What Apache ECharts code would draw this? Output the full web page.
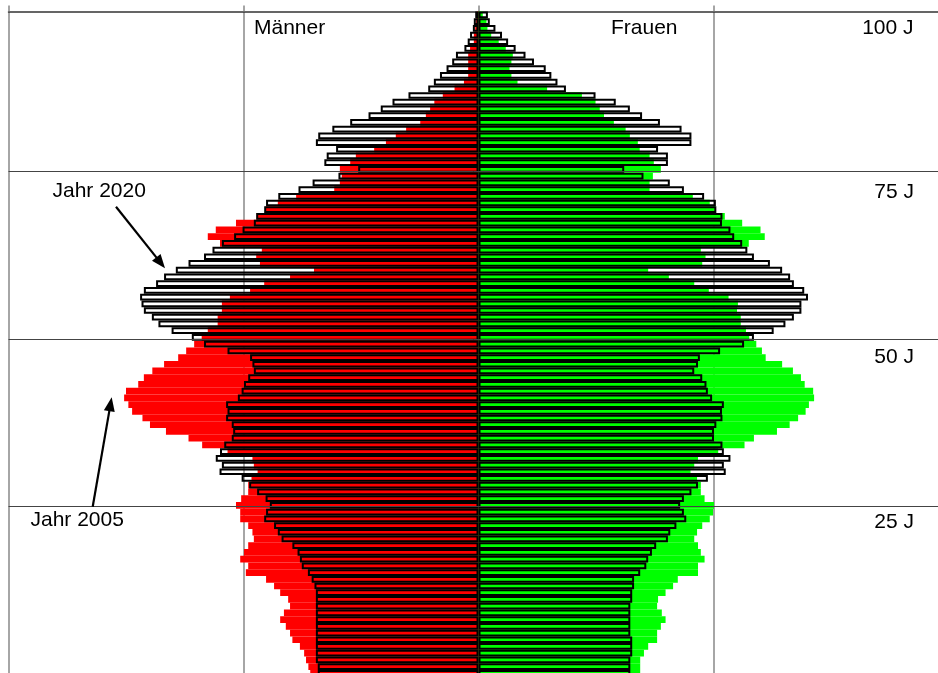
<!DOCTYPE html>
<html><head><meta charset="utf-8">
<script src="https://cdn.jsdelivr.net/npm/echarts@6/dist/echarts.min.js"></script>
<style>html,body{margin:0;padding:0;background:#fff}#c{width:938px;height:673px}</style>
</head><body><div id="c"></div><script>
// Ages 0..98 (bottom to top)
const ages = ['0','1','2','3','4','5','6','7','8','9','10','11','12','13','14','15','16','17','18','19',
 '20','21','22','23','24','25','26','27','28','29','30','31','32','33','34','35','36','37','38','39',
 '40','41','42','43','44','45','46','47','48','49','50','51','52','53','54','55','56','57','58','59',
 '60','61','62','63','64','65','66','67','68','69','70','71','72','73','74','75','76','77','78','79',
 '80','81','82','83','84','85','86','87','88','89','90','91','92','93','94','95','96','97','98'];

// Population in thousands, index = age
const male2005 = [358,362,367,371,380,396,401,410,422,414, 401,405,422,435,452,495,490,507,499,490,
 478,481,490,507,507,516,505,490,490,483, 470,478,481,534,588,617,665,699,715,737,
 745,754,750,724,712,694,669,639,622,605, 589,576,555,555,546,546,529,486,456,401,
 350,465,473,461,550,576,559,516,472,453, 427,388,307,295,291,295,273,261,222,197,
 176,154,124,112,103,94,76,51,31,22, 22,22,22,18,10,10,7,5,3];
const female2005 = [344,344,344,352,361,380,380,388,398,390, 380,382,398,414,424,467,467,481,473,467,
 459,465,476,492,499,501,481,473,473,465, 451,459,467,510,566,586,635,662,680,696,
 703,714,712,694,686,669,646,611,603,591, 576,569,558,558,550,552,532,490,459,405,
 361,476,483,473,575,609,600,561,524,504, 492,456,364,364,371,388,373,364,343,339,
 322,313,288,267,258,249,220,146,83,70, 66,70,73,58,43,27,19,17,9];
const male2020 = [342,342,346,346,346,346,346,346,346,346, 346,346,346,349,355,363,376,380,385,396,
 419,427,435,456,452,444,453,471,488,504, 551,546,559,550,541,525,522,525,537,534,
 537,512,504,499,490,478,481,486,534,584, 610,653,681,695,712,717,720,712,686,669,
 644,617,584,566,546,520,502,478,473,456, 452,426,383,353,298,256,328,323,303,346,
 341,311,273,234,208,183,149,107,95,82, 68,56,48,30,23,18,12,10,7];
const female2020 = [323,323,323,327,327,327,323,323,323,323, 323,327,327,331,331,344,357,361,369,378,
 403,408,421,442,437,429,437,453,467,488, 526,522,536,522,519,501,501,506,519,518,
 522,497,488,485,476,459,467,471,514,565, 586,628,653,671,687,687,701,693,671,663,
 646,620,586,572,561,544,536,518,519,506, 505,480,437,407,351,310,403,403,382,453,
 453,432,386,348,322,292,249,186,168,155, 143,118,100,79,63,50,36,24,20];

const gridAges = [25, 50, 75];
const sexLabels = ['Männer', 'Frauen'];
const ageLabels = ['100 J', '75 J', '50 J', '25 J'];
const yearLabels = ['Jahr 2020', 'Jahr 2005'];

const chart = echarts.init(document.getElementById('c'), null, {renderer: 'canvas'});
const font = '21px "Liberation Sans", Arial, sans-serif';
function txt(t, x, y, align) {
  return {type: 'text', x: x, y: y, z: 100,
    style: {text: t, font: font, fill: '#000', textAlign: align, textVerticalAlign: 'middle', align: align, verticalAlign: 'middle'}};
}
function arrow(x1, y1, x2, y2) {
  const dx = x2 - x1, dy = y2 - y1, L = Math.sqrt(dx * dx + dy * dy);
  const ux = dx / L, uy = dy / L, px = -uy, py = ux;
  const hl = 14, hw = 5.5;
  const bx = x2 - ux * hl, by = y2 - uy * hl;
  return [
    {type: 'line', z: 100, shape: {x1: x1, y1: y1, x2: bx + ux * 2, y2: by + uy * 2}, style: {stroke: '#000', lineWidth: 2.2}},
    {type: 'polygon', z: 100, shape: {points: [[x2, y2], [bx + px * hw, by + py * hw], [bx - px * hw, by - py * hw]]}, style: {fill: '#000'}}
  ];
}

const barCommon = {type: 'bar', barGap: '-100%', barCategoryGap: '0%', silent: true, animation: false};

chart.setOption({
  backgroundColor: '#fff',
  animation: false,
  grid: {left: 8.5, top: 11.5, width: 932.5, height: 665.2, containLabel: false, outerBoundsMode: 'none'},
  xAxis: {
    type: 'value', position: 'top', min: -1000, max: 984, interval: 500,
    axisLine: {show: true, onZero: false, lineStyle: {color: '#333', width: 1.5}},
    axisTick: {show: true, inside: false, length: 6, lineStyle: {color: '#888', width: 1.5}},
    axisLabel: {show: false},
    splitLine: {show: true, showMaxLine: false, lineStyle: {color: '#888', width: 1.5}}
  },
  yAxis: [
    {type: 'category', data: ages, axisLine: {show: false, onZero: false}, axisTick: {show: false},
     axisLabel: {show: false}, splitLine: {show: false}},
    {type: 'value', min: -0.4, max: 98.88, show: false, splitLine: {show: false}}
  ],
  series: [
    {type: 'line', xAxisIndex: 0, yAxisIndex: 1, data: [], z: 1, silent: true,
     markLine: {silent: true, symbol: 'none', animation: false, label: {show: false},
       lineStyle: {color: '#444', width: 1, type: 'solid'},
       data: gridAges.map(a => ({yAxis: a}))}},
    Object.assign({}, barCommon, {name: 'Männer 2005', z: 2, data: male2005.map(v => -v), itemStyle: {color: '#ff0000'}}),
    Object.assign({}, barCommon, {name: 'Frauen 2005', z: 2, data: female2005, itemStyle: {color: '#00ff00'}}),
    Object.assign({}, barCommon, {name: 'Männer 2020', z: 3, data: male2020.map(v => -v),
      itemStyle: {color: 'rgba(0,0,0,0)', borderColor: '#000', borderWidth: 2}}),
    Object.assign({}, barCommon, {name: 'Frauen 2020', z: 3, data: female2020,
      itemStyle: {color: 'rgba(0,0,0,0)', borderColor: '#000', borderWidth: 2}})
  ],
  graphic: [
    txt(sexLabels[0], 254, 28.5, 'left'),
    txt(sexLabels[1], 611, 28.5, 'left'),
    txt(ageLabels[0], 913.5, 28.5, 'right'),
    txt(ageLabels[1], 914, 192, 'right'),
    txt(ageLabels[2], 914, 357, 'right'),
    txt(ageLabels[3], 914, 522, 'right'),
    txt(yearLabels[0], 52.5, 191.5, 'left'),
    txt(yearLabels[1], 30.5, 520.5, 'left')
  ].concat(arrow(116, 206.7, 165, 268.3)).concat(arrow(92.7, 506.7, 111.7, 397.3))
});
</script></body></html>
